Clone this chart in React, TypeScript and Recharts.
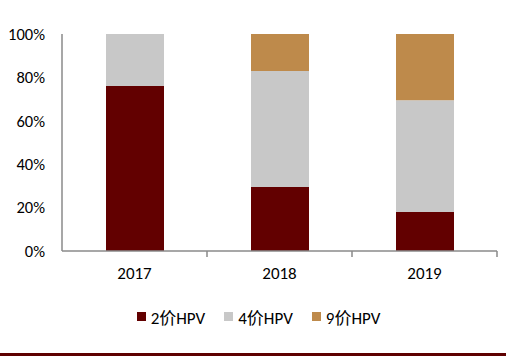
import React from 'react';
import { BarChart, Bar, XAxis, YAxis, Legend } from 'recharts';

const years = ['2017', '2018', '2019'];
const hpv2 = [76, 29.5, 18];
const hpv4 = [24, 53.5, 51.5];
const hpv9 = [0, 17, 30.5];
const yTicks = [0, 20, 40, 60, 80, 100];

const seriesInfo = [
  { key: 'hpv2', name: '2价HPV', color: '#620000' },
  { key: 'hpv4', name: '4价HPV', color: '#C8C8C8' },
  { key: 'hpv9', name: '9价HPV', color: '#BE8A4B' },
];

const data = years.map((year, i) => ({
  year,
  hpv2: hpv2[i],
  hpv4: hpv4[i],
  hpv9: hpv9[i],
}));

const font = "Carlito, Calibri, 'Liberation Sans', 'Noto Sans CJK SC', sans-serif";
const axisColor = '#8A8A8A';

function YearTick(props: any) {
  const { x, y, payload } = props;
  const half = payload && payload.offset ? payload.offset : 72.5;
  return (
    <g>
      <text x={x} y={y + 28} textAnchor="middle" fontSize={17} fill="#000" fontFamily={font}>
        {payload.value}
      </text>
      <line x1={x + half} y1={y} x2={x + half} y2={y + 6} stroke={axisColor} strokeWidth={1.5} />
    </g>
  );
}

function LegendBox() {
  return (
    <div
      style={{
        height: 20,
        display: 'flex',
        justifyContent: 'center',
        alignItems: 'center',
        paddingLeft: 20,
        fontFamily: font,
        fontSize: 17,
        color: '#000',
      }}
    >
      {seriesInfo.map((s) => (
        <span key={s.key} style={{ display: 'flex', alignItems: 'center', margin: '0 9.5px' }}>
          <span style={{ width: 9, height: 9, background: s.color, marginRight: 5, display: 'inline-block' }} />
          {s.name}
        </span>
      ))}
    </div>
  );
}

export default function App() {
  return (
    <div style={{ position: 'absolute', left: 0, top: 0, width: 506, height: 357, background: '#fff' }}>
      <BarChart
        width={506}
        height={357}
        data={data}
        margin={{ top: 34, right: 9, left: 0, bottom: 31 }}
        barSize={58}
      >
        <XAxis
          dataKey="year"
          axisLine={{ stroke: axisColor, strokeWidth: 1.5 }}
          tickLine={false}
          tickSize={0}
          tickMargin={0}
          height={55}
          interval={0}
          tick={<YearTick />}
        />
        <YAxis
          domain={[0, 100]}
          ticks={yTicks}
          tickFormatter={(v: number) => `${v}%`}
          axisLine={{ stroke: axisColor, strokeWidth: 1.5 }}
          tickLine={false}
          tickSize={0}
          tickMargin={17}
          width={62}
          tick={{ fontSize: 16.5, fill: '#000', fontFamily: font }}
        />
        <Legend verticalAlign="bottom" wrapperStyle={{ height: 20 }} content={() => <LegendBox />} />
        {seriesInfo.map((s) => (
          <Bar key={s.key} dataKey={s.key} name={s.name} stackId="a" fill={s.color} isAnimationActive={false} />
        ))}
      </BarChart>
      <div style={{ position: 'absolute', left: 0, top: 353, width: 506, height: 2.5, background: '#5E0000' }} />
    </div>
  );
}
